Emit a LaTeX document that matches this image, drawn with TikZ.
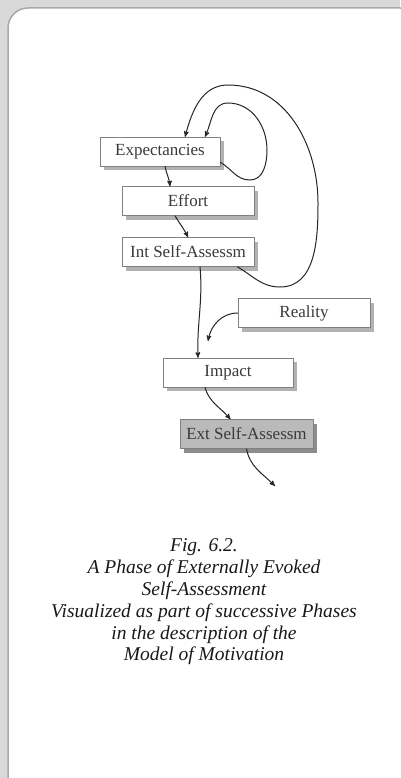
\documentclass[tikz,border=0pt]{standalone}
\usepackage{fontspec}
\setmainfont{Liberation Serif}
\usetikzlibrary{arrows,shadows}
\definecolor{panelgrey}{HTML}{D9D9D9}
\definecolor{rimgrey}{HTML}{A9A9A9}
\definecolor{inkgrey}{HTML}{3A3A3A}
\tikzstyle{phase}=[draw=black!50,fill=white,minimum height=29pt,inner sep=0pt,font=\fontsize{17}{20}\selectfont,text=inkgrey,drop shadow={shadow xshift=4pt,shadow yshift=-4pt,fill=black!30,opacity=1}]
\tikzstyle{extphase}=[phase,fill=black!27,drop shadow={shadow xshift=4pt,shadow yshift=-4pt,fill=black!45,opacity=1}]
\tikzstyle{edge}=[draw,line width=1pt,black!85,->,>=stealth']
\tikzstyle{caption}=[font=\fontsize{19.5}{21.8}\selectfont\itshape,align=center,text=black!90]

\begin{document}
\begin{tikzpicture}[x=1pt,y=1pt]
	% the grey page and the white panel
	\useasboundingbox (0,0) rectangle (400,-778);
	\fill[panelgrey] (0,0) rectangle (400,-778);
	\draw[rimgrey,line width=1.5pt,fill=white,rounded corners=20pt] (8,-8) rectangle (420,-800);

	% First we draw the phases
	\foreach \pos/\name/\bw/\txt in {{(160,-151.5)/exp/120/Expectancies}, {(188,-201)/eff/132/Effort},
							{(188,-252)/isa/132/Int Self-Assessm}, {(304,-313)/real/132/Reality},
							{(228,-372.5)/imp/130/Impact}}
	\node[phase,minimum width=\bw pt] (\name) at \pos {\txt};
	\node[extphase,minimum width=133pt] (esa) at (246.5,-434) {Ext Self-Assessm};

	% free ends
	\coordinate (realtip) at (208,-341);
	\coordinate (onward) at (275,-486);

	% Connect phases
	\path[edge] ([xshift=5pt]exp.south) to[out=-80,in=95] ([xshift=-18pt]eff.north);
	\path[edge] ([xshift=-13pt]eff.south) to[out=-60,in=115] (isa.north);
	\path[edge] ([xshift=12pt]isa.south) to[out=-85,in=92] ([xshift=-30pt]imp.north);
	\path[edge] (real.west) to[out=180,in=80] (realtip);
	\path[edge] ([xshift=-23pt]imp.south) to[out=-75,in=130] ([xshift=-16pt]esa.north);
	\path[edge] (esa.south) to[out=-80,in=135] (onward);

	% the two loops back to the expectancies
	\path[edge] ([yshift=4pt]exp.south east) to[out=-30,in=180] (250,-180) to[out=0,in=-90] (267,-150)
		to[out=90,in=0] (228,-103) to[out=180,in=65] ([xshift=45pt]exp.north);
	\path[edge] ([xshift=-17pt]isa.south east) to[out=-30,in=180] (280,-287) to[out=0,in=-90] (318,-203)
		to[out=90,in=0] (228,-85) to[out=180,in=75] ([xshift=25pt]exp.north);

	% caption
	\node[caption] (legend) at (204,-602) {Fig. 6.2.\\A Phase of Externally Evoked\\Self-Assessment\\Visualized as part of successive Phases\\in the description of the\\Model of Motivation};
\end{tikzpicture}
\end{document}
